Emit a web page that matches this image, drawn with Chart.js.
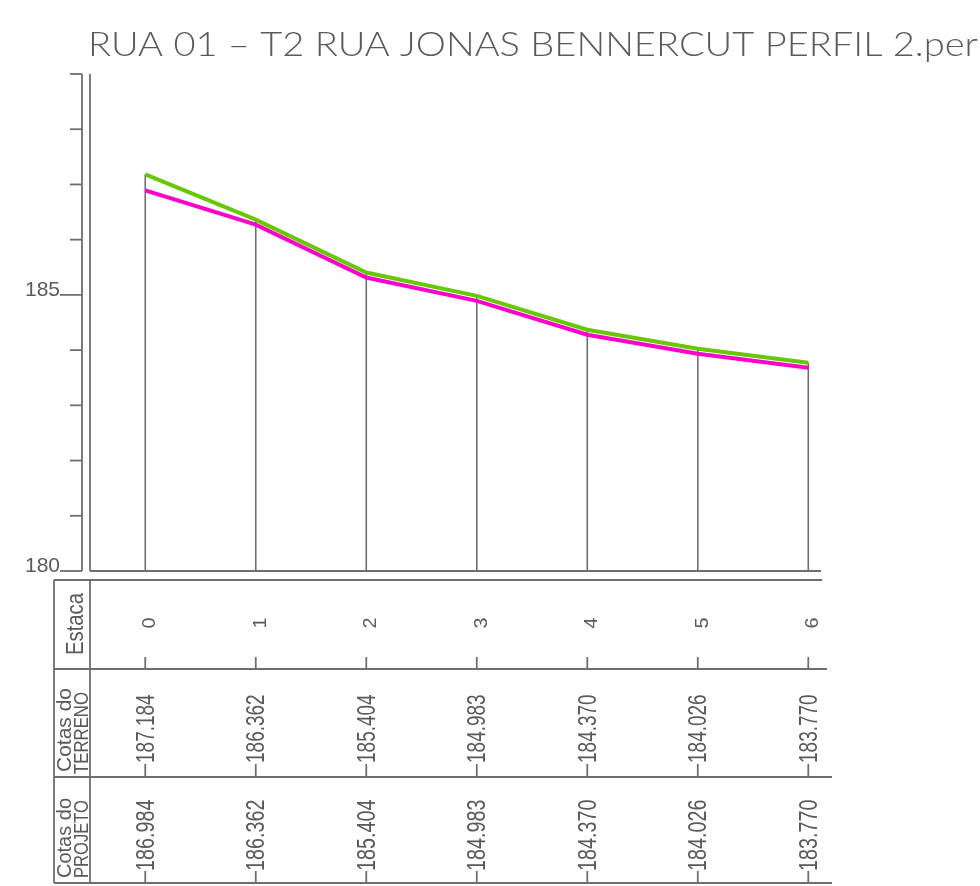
<!DOCTYPE html>
<html><head><meta charset="utf-8">
<script src="https://cdn.jsdelivr.net/npm/chart.js@4.4.1/dist/chart.umd.min.js"></script>
<style>html,body{margin:0;padding:0;background:#fff;}#wrap{width:980px;height:886px;}</style>
</head><body><div id="wrap"><canvas id="c" width="980" height="886"></canvas></div>
<script>
const titleText = "RUA 01 \u2013 T2 RUA JONAS BENNERCUT PERFIL 2.per";
const stations = [0, 1, 2, 3, 4, 5, 6];
const estacaLabels = ["0", "1", "2", "3", "4", "5", "6"];
const cotasTerreno = [187.184, 186.362, 185.404, 184.983, 184.370, 184.026, 183.770];
const cotasProjeto = [186.984, 186.362, 185.404, 184.983, 184.370, 184.026, 183.770];
const yTicks = [180, 181, 182, 183, 184, 185, 186, 187, 188, 189];
const yLabeledTicks = [180, 185];
const headerEstaca = "Estaca";
const headerTerreno = ["Cotas do", "TERRENO"];
const headerProjeto = ["Cotas do", "PROJETO"];

const GREY = '#6e6e6e';
const TXT = '#5a5a5a';

function rotText(ctx, txt, bx, y, size, align, sx, target) {
  ctx.save();
  ctx.translate(bx, y);
  ctx.rotate(-Math.PI / 2);
  ctx.font = size + 'px "Liberation Sans", Arial, sans-serif';
  const w = ctx.measureText(txt).width;
  const s = target ? target / w : sx;
  ctx.scale(s, 1);
  ctx.textBaseline = 'alphabetic';
  ctx.textAlign = align;
  ctx.fillStyle = TXT;
  ctx.fillText(txt, 0, 0);
  ctx.restore();
}
function line(ctx, x1, y1, x2, y2, w, c) {
  ctx.beginPath();
  ctx.moveTo(x1, y1); ctx.lineTo(x2, y2);
  ctx.lineWidth = w || 1.8; ctx.strokeStyle = c || GREY;
  ctx.stroke();
}

const profilePlugin = {
  id: 'profile',
  beforeDatasetsDraw(chart) {
    const ctx = chart.ctx, xs = chart.scales.x, ys = chart.scales.y, ca = chart.chartArea;
    ctx.save();
    ctx.lineCap = 'butt';
    const axX = ca.left - 8;
    line(ctx, axX, ys.getPixelForValue(yTicks[yTicks.length - 1]), axX, ys.getPixelForValue(yTicks[0]));
    yTicks.forEach(t => {
      const y = ys.getPixelForValue(t);
      const labeled = yLabeledTicks.includes(t);
      line(ctx, labeled ? axX - 22 : axX - 12, y, axX, y);
      if (labeled) {
        ctx.font = '21px "Liberation Sans", Arial, sans-serif';
        ctx.fillStyle = TXT; ctx.textAlign = 'right'; ctx.textBaseline = 'alphabetic';
        ctx.fillText(String(t), axX - 22, y + 1);
      }
    });
    line(ctx, ca.left, ca.top, ca.left, ca.bottom);
    line(ctx, ca.left, ca.bottom, ca.right, ca.bottom);
    stations.forEach((s, i) => {
      const x = xs.getPixelForValue(s);
      line(ctx, x, ca.bottom, x, ys.getPixelForValue(cotasTerreno[i]), 1.6);
    });
    ctx.restore();
  },
  beforeDatasetDraw(chart, args) {
    if (args.index === 1) { chart.ctx.save(); chart.ctx.translate(0, 5); }
  },
  afterDatasetDraw(chart, args) {
    if (args.index === 1) { chart.ctx.restore(); }
  },
  afterDraw(chart) {
    const ctx = chart.ctx, xs = chart.scales.x, ca = chart.chartArea;
    ctx.save();
    ctx.font = '300 33px Lato, "Liberation Sans", sans-serif';
    const tw = ctx.measureText(titleText).width;
    ctx.save();
    ctx.translate(88, 56);
    ctx.scale(890 / tw, 1);
    ctx.fillStyle = TXT; ctx.textAlign = 'left'; ctx.textBaseline = 'alphabetic';
    ctx.fillText(titleText, 0, 0);
    ctx.restore();

    const tL = 54, hR = ca.left;
    const rTop = 580, r1 = 669, r2 = 777, r3 = 883;
    line(ctx, tL, rTop, ca.right + 1, rTop);
    line(ctx, tL, r1, ca.right + 6, r1);
    line(ctx, tL, r2, ca.right + 11, r2);
    line(ctx, tL, r3, ca.right + 11, r3);
    line(ctx, tL, rTop, tL, r3);
    line(ctx, hR, rTop, hR, r3);

    rotText(ctx, headerEstaca, 82.5, 624, 23, 'center', 1, 62);
    rotText(ctx, headerTerreno[0], 70.5, 730, 21, 'center', 1, 84);
    rotText(ctx, headerTerreno[1], 88, 733, 21, 'center', 1, 82);
    rotText(ctx, headerProjeto[0], 70.5, 838, 21, 'center', 1, 80);
    rotText(ctx, headerProjeto[1], 88, 839, 21, 'center', 1, 78);

    stations.forEach((s, i) => {
      const x = xs.getPixelForValue(s);
      line(ctx, x, r1, x, r1 - 12);
      line(ctx, x, r2, x, r2 - 13);
      line(ctx, x, r3, x, r3 - 12);
      rotText(ctx, estacaLabels[i], x + 10, 623, 18, 'center', 1.1);
      rotText(ctx, cotasTerreno[i].toFixed(3), x + 8.5, r2 - 14, 25, 'left', 0.76);
      rotText(ctx, cotasProjeto[i].toFixed(3), x + 8.5, r3 - 12, 25, 'left', 0.79);
    });
    ctx.restore();
  }
};

new Chart(document.getElementById('c'), {
  type: 'line',
  data: {
    datasets: [
      { label: 'Cotas do Terreno', data: stations.map((s, i) => ({ x: s, y: cotasTerreno[i] })),
        borderColor: '#66c800', borderWidth: 4, pointRadius: 0, tension: 0, fill: false },
      { label: 'Cotas do Projeto', data: stations.map((s, i) => ({ x: s, y: cotasProjeto[i] })),
        borderColor: '#ff00cc', borderWidth: 4, pointRadius: 0, tension: 0, fill: false }
    ]
  },
  options: {
    responsive: false, animation: false, devicePixelRatio: 1,
    layout: { padding: { left: 90, right: 159, top: 74, bottom: 315 } },
    scales: {
      x: { type: 'linear', min: -0.5, max: 6.115, display: false },
      y: { type: 'linear', min: 180, max: 189, display: false }
    },
    plugins: { legend: { display: false }, tooltip: { enabled: false }, title: { display: false } }
  },
  plugins: [profilePlugin]
});
</script></body></html>
